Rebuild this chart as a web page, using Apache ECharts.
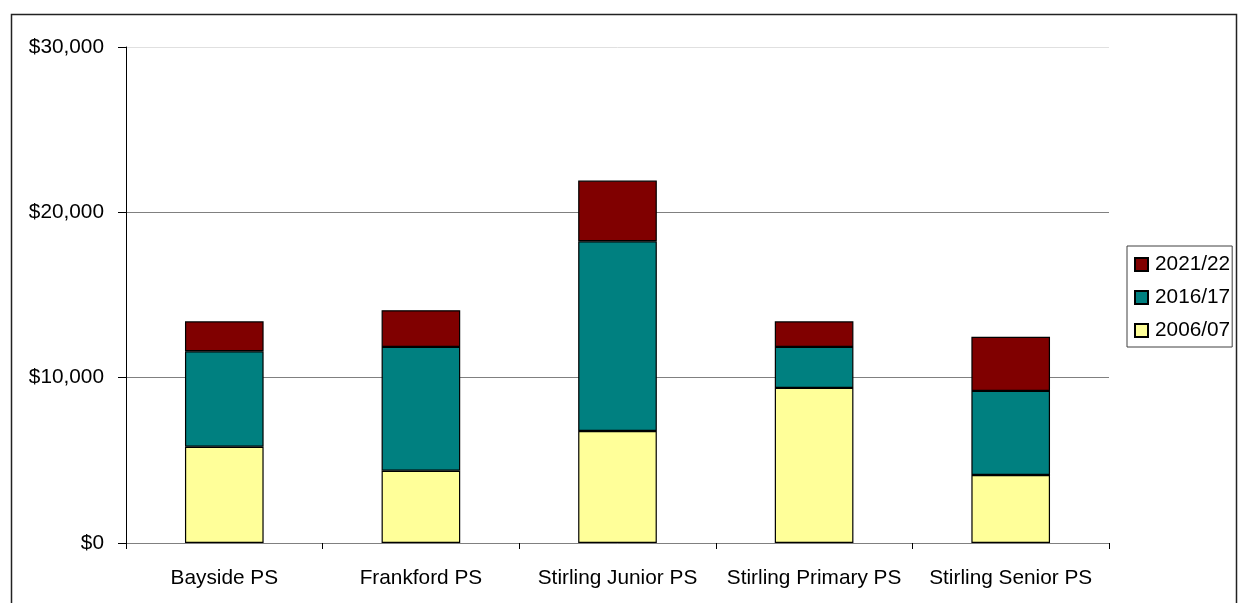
<!DOCTYPE html>
<html>
<head>
<meta charset="utf-8">
<style>
  html, body { margin: 0; padding: 0; background: #fff; }
  #chart { width: 1238px; height: 603px; }
</style>
<script src="https://cdn.jsdelivr.net/npm/echarts@6/dist/echarts.min.js"></script>
</head>
<body>
<div id="chart"></div>
<script>
// Schools shown along the category axis
const schools = ['Bayside PS', 'Frankford PS', 'Stirling Junior PS', 'Stirling Primary PS', 'Stirling Senior PS'];

// Stacked amounts per period (dollars)
const y2006 = [5820, 4370, 6770, 9380, 4110];
const y2016 = [5780, 7490, 11480, 2480, 5090];
const y2021 = [1810, 2220, 3670, 1550, 3270];

// Value axis ticks
const yTicks = [0, 10000, 20000, 30000];

const FONT = '"Liberation Sans", Arial, sans-serif';
const FS = 20.8;

function money(v) {
  return '$' + String(v).replace(/\B(?=(\d{3})+(?!\d))/g, ',');
}

const chart = echarts.init(document.getElementById('chart'), null, { renderer: 'canvas' });

function barSeries(name, data, color) {
  return {
    name: name,
    type: 'bar',
    stack: 'total',
    data: data,
    barWidth: '40%',
    itemStyle: { color: color, borderColor: '#000', borderWidth: 1.2 },
    emphasis: { disabled: true }
  };
}

chart.setOption({
  animation: false,
  backgroundColor: '#fff',
  textStyle: { fontFamily: FONT, color: '#000' },
  graphic: [{
    type: 'rect',
    shape: { x: 11.5, y: 14.5, width: 1225, height: 620 },
    style: { fill: 'none', stroke: '#222', lineWidth: 1.5 },
    silent: true,
    z: 0
  }],
  grid: { left: 126, right: 129, top: 47, bottom: 60, containLabel: false },
  legend: {
    orient: 'vertical',
    left: 1127,
    top: 246,
    data: ['2021/22', '2016/17', '2006/07'],
    itemWidth: 13,
    itemHeight: 13,
    itemGap: 12,
    icon: 'rect',
    padding: [8, 2, 6, 7],
    borderColor: '#404040',
    borderWidth: 1,
    selectedMode: false,
    textStyle: { fontFamily: FONT, fontSize: FS, color: '#000', padding: [0, 0, 0, 2] }
  },
  xAxis: {
    type: 'category',
    data: schools,
    axisLine: { show: true, lineStyle: { color: '#808080', width: 1 } },
    axisTick: { show: true, interval: 0, alignWithLabel: false, length: 6, lineStyle: { color: '#000' } },
    axisLabel: { interval: 0, fontFamily: FONT, fontSize: FS, color: '#000', margin: 25 },
    splitLine: { show: false }
  },
  yAxis: {
    type: 'value',
    min: yTicks[0],
    max: yTicks[yTicks.length - 1],
    interval: yTicks[1] - yTicks[0],
    axisLine: { show: true, lineStyle: { color: '#000', width: 1 } },
    axisTick: { show: true, length: 8, lineStyle: { color: '#000' } },
    axisLabel: { fontFamily: FONT, fontSize: FS, color: '#000', margin: 22, formatter: money },
    splitLine: { show: true, lineStyle: { color: ['#808080', '#808080', '#808080', '#e0e0e0'], width: 1 } }
  },
  series: [
    barSeries('2006/07', y2006, '#FFFF99'),
    barSeries('2016/17', y2016, '#008080'),
    barSeries('2021/22', y2021, '#800000')
  ]
});
</script>
</body>
</html>
